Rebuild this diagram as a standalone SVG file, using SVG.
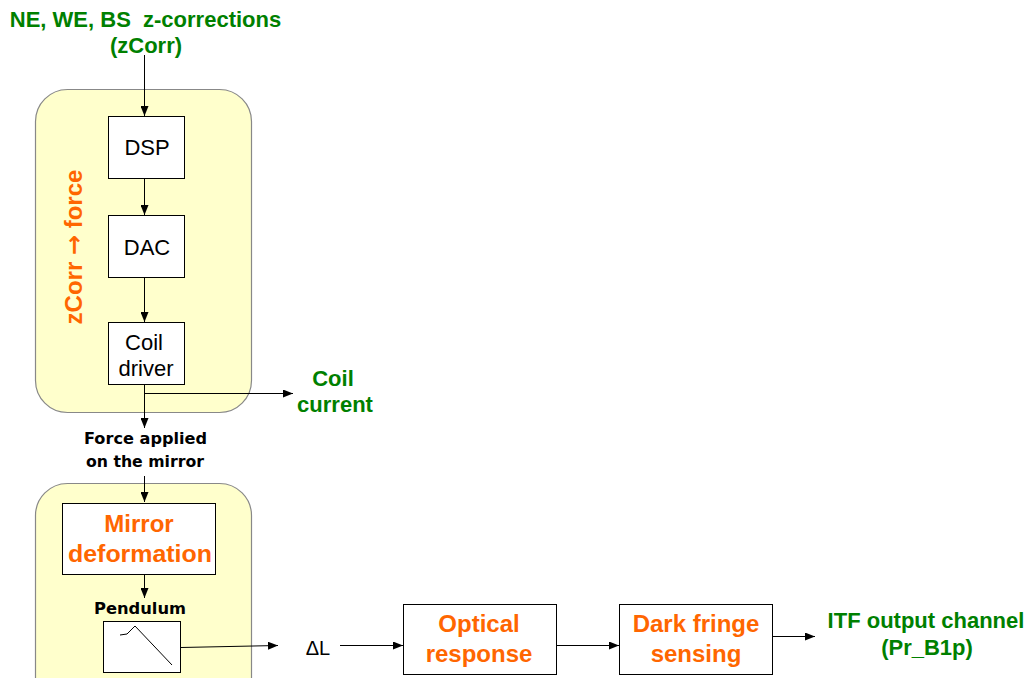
<svg xmlns="http://www.w3.org/2000/svg" width="1029" height="678" viewBox="0 0 1029 678">
<style>
.grp{fill:#FFFFCC;stroke:#888;stroke-width:1.2}
.box{fill:#fff;stroke:#000;stroke-width:1}
.t{font-family:"Liberation Sans",Arial,sans-serif;text-anchor:middle}
.blk{fill:#000;font-size:22px}
.or{fill:#FF6600;font-weight:bold;font-size:24px}
.gr{fill:#008000;font-weight:bold;font-size:22px}
.sm{fill:#000;font-weight:bold;font-size:16px;font-family:"DejaVu Sans",sans-serif}
.ln{stroke:#000;stroke-width:1;fill:none}
</style>
<defs>
<marker id="ah" markerWidth="10" markerHeight="8" refX="10" refY="4" orient="auto" markerUnits="userSpaceOnUse">
<path d="M0,0 L10,4 L0,8 Z" fill="#000"/>
</marker>
</defs>
<g id="group-top">
<rect class="grp" x="35.5" y="89.5" width="216" height="323" rx="32"/>
<text class="t or" font-size="22" transform="translate(82,247) rotate(-90)">zCorr <tspan font-family="DejaVu Sans" font-weight="bold" font-size="24">→</tspan> force</text>
</g>
<g id="group-bottom">
<rect class="grp" x="35.5" y="483.5" width="216" height="230" rx="32"/>
</g>
<g id="input-label">
<text class="t gr" x="145.5" y="27" xml:space="preserve">NE, WE, BS  z-corrections</text>
<text class="t gr" x="146" y="53">(zCorr)</text>
</g>
<g id="dsp">
<rect class="box" x="108.5" y="116.5" width="76" height="62"/>
<text class="t blk" x="147" y="155">DSP</text>
</g>
<g id="dac">
<rect class="box" x="108.5" y="215.5" width="76" height="62"/>
<text class="t blk" x="147" y="255">DAC</text>
</g>
<g id="coil-driver">
<rect class="box" x="108.5" y="322.5" width="76" height="62"/>
<text class="t blk" x="144" y="350">Coil</text>
<text class="t blk" x="146" y="376">driver</text>
</g>
<g id="coil-current">
<text class="t gr" x="333" y="386">Coil</text>
<text class="t gr" x="335" y="412">current</text>
</g>
<g id="force-label">
<text class="t sm" x="145.5" y="444" textLength="123" lengthAdjust="spacingAndGlyphs">Force applied</text>
<text class="t sm" x="145" y="467" textLength="118" lengthAdjust="spacingAndGlyphs">on the mirror</text>
</g>
<g id="mirror-deformation">
<rect class="box" x="62.5" y="503.5" width="153" height="71"/>
<text class="t or" x="139" y="532">Mirror</text>
<text class="t or" x="140" y="562" textLength="144" lengthAdjust="spacingAndGlyphs">deformation</text>
</g>
<g id="pendulum">
<text class="t sm" x="140" y="614" textLength="92" lengthAdjust="spacingAndGlyphs">Pendulum</text>
<rect class="box" x="103.5" y="621.5" width="77" height="51"/>
<path class="ln" d="M120,635 L127,634 L135,626 L172,665"/>
</g>
<g id="delta-l">
<text class="t" x="318" y="655" font-size="20" fill="#000">ΔL</text>
</g>
<g id="optical-response">
<rect class="box" x="403.5" y="604.5" width="153" height="70"/>
<text class="t or" x="479" y="632">Optical</text>
<text class="t or" x="479" y="662">response</text>
</g>
<g id="dark-fringe">
<rect class="box" x="619.5" y="604.5" width="153" height="70"/>
<text class="t or" x="696" y="632">Dark fringe</text>
<text class="t or" x="696" y="662">sensing</text>
</g>
<g id="itf-output">
<text class="t gr" x="926" y="628">ITF output channel</text>
<text class="t gr" x="927" y="655">(Pr_B1p)</text>
</g>
<g id="connectors">
<line class="ln" x1="144.5" y1="55" x2="144.5" y2="116" marker-end="url(#ah)"/>
<line class="ln" x1="144.5" y1="179" x2="144.5" y2="215" marker-end="url(#ah)"/>
<line class="ln" x1="144.5" y1="278" x2="144.5" y2="322" marker-end="url(#ah)"/>
<line class="ln" x1="144.5" y1="385" x2="144.5" y2="428" marker-end="url(#ah)"/>
<line class="ln" x1="144" y1="393.5" x2="293" y2="393.5" marker-end="url(#ah)"/>
<line class="ln" x1="144.5" y1="476" x2="144.5" y2="502" marker-end="url(#ah)"/>
<line class="ln" x1="144.5" y1="575" x2="144.5" y2="598" marker-end="url(#ah)"/>
<line class="ln" x1="181" y1="647.5" x2="278" y2="645.5" marker-end="url(#ah)"/>
<line class="ln" x1="340" y1="645.5" x2="403" y2="645.5" marker-end="url(#ah)"/>
<line class="ln" x1="557" y1="645.5" x2="619" y2="645.5" marker-end="url(#ah)"/>
<line class="ln" x1="773" y1="636.5" x2="815" y2="636.5" marker-end="url(#ah)"/>
</g>
</svg>
